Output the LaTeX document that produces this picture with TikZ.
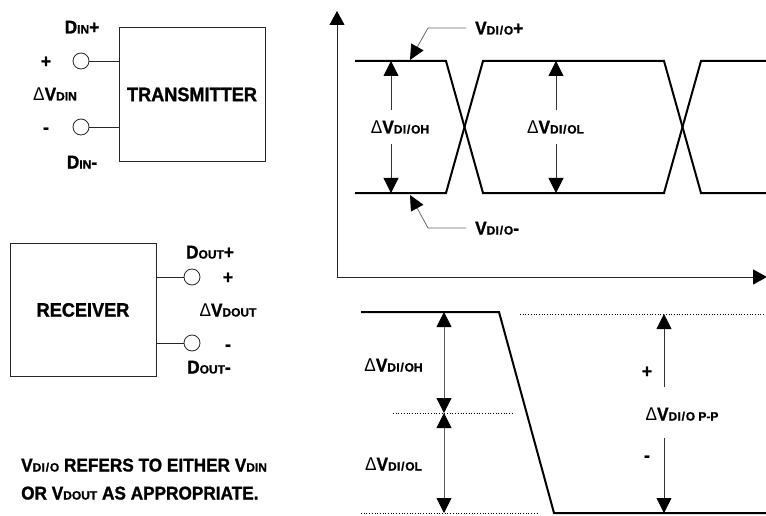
\documentclass[tikz,border=0pt]{standalone}
\usepackage{fontspec}
\setmainfont{Liberation Sans}[FakeStretch=0.93, BoldFeatures={FakeBold=1.2}]
\newfontfamily\smfont{Liberation Sans}[BoldFeatures={FakeBold=1.2}]
\usetikzlibrary{arrows.meta}
\newcommand{\sm}[1]{{\smfont\bfseries\fontsize{12}{13}\selectfont #1}}
\newcommand{\dio}{D\kern0.3ptI\kern0.8pt/\kern0.8ptO}
\newcommand{\dlt}{{\mdseries Δ}}
\begin{document}
\begin{tikzpicture}[x=1pt,y=-1pt,
  lab/.style={font=\bfseries\fontsize{18.5}{20}\selectfont, inner sep=0pt, text height=13pt, text depth=0pt},
  big/.style={font=\bfseries\fontsize{19.5}{22}\selectfont, text height=14.3pt, text depth=0pt},
  box/.style={draw=black!85, line width=0.9pt, inner sep=0pt},
  term/.style={circle, draw=black!85, line width=0.8pt, minimum size=16pt, inner sep=0pt},
  wire/.style={draw=black!85, line width=0.8pt},
  wave/.style={line width=2pt, line join=miter},
  axis/.style={draw=black!85, line width=0.9pt, {Triangle[width=15pt,length=14pt,black]}-{Triangle[width=15pt,length=14pt,black]}},
  dim/.style={draw=black!80, line width=0.8pt, -{Triangle[width=15pt,length=15pt,black]}},
  ddim/.style={draw=black!65, line width=0.8pt, {Triangle[width=15pt,length=15pt,black]}-{Triangle[width=15pt,length=15pt,black]}},
  lead/.style={draw=black!60, line width=0.8pt, -{Triangle[width=14pt,length=15pt,black]}},
  dots/.style={dotted, line width=0.7pt}
]
\useasboundingbox (0,0) rectangle (766,516);

% Transmitter
\node[box, big, minimum width=146pt, minimum height=134pt] (tx) at (192,94) {TRANSMITTER};
\node[term] (tp) at (81,61) {};
\node[term] (tn) at (81,127) {};
\draw[wire] (tp) -- (tp -| tx.west);
\draw[wire] (tn) -- (tn -| tx.west);
\node[lab] (dinp) at (82,27) {D\sm{IN}+};
\node[lab] (tplus) at (46,61) {+};
\node[lab] (vdin) at (55,94) {\dlt V\sm{DIN}};
\node[lab] (tminus) at (46,127) {-};
\node[lab] (dinn) at (82,162) {D\sm{IN}-};

% Receiver
\node[box, big, minimum width=146pt, minimum height=133pt] (rx) at (83,309.5) {RECEIVER};
\node[term] (rp) at (192,277) {};
\node[term] (rn) at (192,343) {};
\draw[wire] (rp -| rx.east) -- (rp);
\draw[wire] (rn -| rx.east) -- (rn);
\node[lab] (doutp) at (210,252) {D\sm{OUT}+};
\node[lab] (rplus) at (228,277) {+};
\node[lab] (vdout) at (228,310) {\dlt V\sm{DOUT}};
\node[lab] (rminus) at (228,344) {-};
\node[lab] (doutn) at (209,367) {D\sm{OUT}-};

% Note
\node[lab, anchor=west] (note1) at (21,465) {V\sm{\dio} REFERS TO EITHER V\sm{DIN}};
\node[lab, anchor=west] (note2) at (21,493) {OR V\sm{DOUT} AS APPROPRIATE.};

% Upper graph
\coordinate (ytop) at (337,11);
\coordinate (org) at (337,277);
\coordinate (xend) at (767,277);
\draw[axis] (ytop) -- (org) -- (xend);
\draw[wave] (355,61) -- (446,61) -- (483,193) -- (664,193) -- (701,61) -- (767,61);
\draw[wave] (355,193) -- (446,193) -- (483,61) -- (664,61) -- (701,193) -- (767,193);

\node[lab] (dvoh) at (400,127) {\dlt V\sm{\dio H}};
\draw[dim] (391,110) -- (391,61);
\draw[dim] (391,144) -- (391,193);
\node[lab] (dvol) at (555.5,127) {\dlt V\sm{\dio L}};
\draw[dim] (556,110) -- (556,61);
\draw[dim] (556,144) -- (556,193);

\node[lab, anchor=west] (vpl) at (475,28) {V\sm{\dio}+};
\draw[lead] (vpl.west) ++(-9,0) -- (428,28) -- (410,60);
\node[lab, anchor=west] (vmi) at (475,228) {V\sm{\dio}-};
\draw[lead] (vmi.west) ++(-9,0) -- (428,228) -- (410,195);

% Lower graph
\draw[wave] (361,312) -- (499,312) -- (554,513) -- (767,513);
\draw[dots] (520,314) -- (766,314);
\draw[dots] (393,413) -- (513,413);
\draw[dots] (361,513) -- (538,513);
\draw[ddim] (444,312) -- (444,413);
\draw[ddim] (444,413) -- (444,513);
\node[lab] (loh) at (393.5,365) {\dlt V\sm{\dio H}};
\node[lab] (lol) at (393.5,464) {\dlt V\sm{\dio L}};
\node[lab] (pp) at (682,414) {\dlt V\sm{\dio{} P-P}};
\node[lab] (lplus) at (647,371) {+};
\node[lab] (lminus) at (647,455) {-};
\draw[dim] (664,387) -- (664,314);
\draw[dim] (664,438) -- (664,513);
\end{tikzpicture}
\end{document}
